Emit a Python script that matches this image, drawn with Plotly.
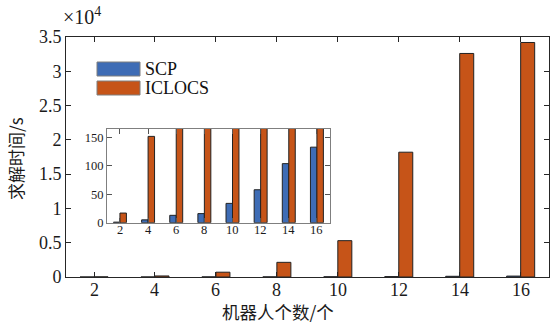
import plotly.graph_objects as go

# Number of robots and solve times (s)
robots = [2, 4, 6, 8, 10, 12, 14, 16]
scp_time = [1, 5, 13, 16, 34, 58, 104, 133]
iclocs_time = [17, 152, 700, 2140, 5300, 18200, 32600, 34200]

series_names = ["SCP", "ICLOCS"]
colors = ["#3E6CB5", "#C65418"]
main_yticks = [0, 0.5e4, 1e4, 1.5e4, 2e4, 2.5e4, 3e4, 3.5e4]
main_yticklabels = ["0", "0.5", "1", "1.5", "2", "2.5", "3", "3.5"]
inset_yticks = [0, 50, 100, 150]

serif = "'Liberation Serif', 'Times New Roman', serif"
cjk = "'Noto Sans CJK SC', sans-serif"

fig = go.Figure()
for name, vals, col in zip(series_names, [scp_time, iclocs_time], colors):
    # main axes
    fig.add_trace(go.Bar(x=robots, y=vals, name=name, marker_color=col,
                         marker_line=dict(color="#222222", width=1),
                         xaxis="x", yaxis="y", showlegend=False))
    # zoomed inset
    fig.add_trace(go.Bar(x=robots, y=vals, name=name, marker_color=col,
                         marker_line=dict(color="#222222", width=1),
                         xaxis="x2", yaxis="y2", showlegend=False))

W, H = 552, 325
ml, mr, mt, mb = 66, 3, 37, 48
pw, ph = W - ml - mr, H - mt - mb


def px_x(x):
    return (x - ml) / pw


def px_y(y):
    return (H - mb - y) / ph


axis_common = dict(showgrid=False, zeroline=False, ticks="inside", ticklen=5,
                   mirror="ticks", showline=True)

fig.update_layout(
    width=W, height=H,
    margin=dict(l=ml, r=mr, t=mt, b=mb),
    paper_bgcolor="white", plot_bgcolor="white",
    barmode="group", bargap=0.54, bargroupgap=0,
    xaxis=dict(domain=[0, 1], range=[1.08, 16.93], tickvals=robots,
               showticklabels=False,
               linecolor="#262626", tickcolor="#262626", linewidth=1,
               **axis_common),
    yaxis=dict(domain=[0, 1], range=[0, 3.5e4], tickvals=main_yticks,
               ticktext=main_yticklabels,
               linecolor="#262626", tickcolor="#262626", linewidth=1,
               tickfont=dict(family=serif, size=18, color="#1a1a1a"),
               **axis_common),
    xaxis2=dict(domain=[px_x(107), px_x(330)], range=[1.08, 16.93],
                tickvals=robots, anchor="y2", showticklabels=False,
                linecolor="#7f7f7f", tickcolor="#555555", linewidth=1,
                **axis_common),
    yaxis2=dict(domain=[px_y(222.7), px_y(129)], range=[0, 165],
                tickvals=inset_yticks, anchor="x2",
                linecolor="#7f7f7f", tickcolor="#555555", linewidth=1,
                tickfont=dict(family=serif, size=12.5, color="#1a1a1a"),
                **axis_common),
)

# x tick labels, set just under each axis
for r in robots:
    fig.add_annotation(xref="x", yref="paper", x=r, y=px_y(290),
                       text=str(r), showarrow=False,
                       xanchor="center", yanchor="middle",
                       font=dict(family=serif, size=18, color="#1a1a1a"))
    fig.add_annotation(xref="x2", yref="paper", x=r, y=px_y(230),
                       text=str(r), showarrow=False,
                       xanchor="center", yanchor="middle",
                       font=dict(family=serif, size=12.5, color="#1a1a1a"))

# inset background panel
fig.add_shape(type="rect", xref="paper", yref="paper",
              x0=px_x(107), x1=px_x(330), y0=px_y(222.7), y1=px_y(129),
              fillcolor="white", line_width=0, layer="below")

# legend swatches and labels
legend_rows = [(62, 76), (81, 95)]
for (y0, y1), name, col in zip(legend_rows, series_names, colors):
    fig.add_shape(type="rect", xref="paper", yref="paper",
                  x0=px_x(97), x1=px_x(140), y0=px_y(y1), y1=px_y(y0),
                  fillcolor=col, line=dict(color="#7f7f7f", width=1))
    fig.add_annotation(xref="paper", yref="paper", x=px_x(143),
                       y=px_y((y0 + y1) / 2), text=name, showarrow=False,
                       xanchor="left", yanchor="middle",
                       font=dict(family=serif, size=18, color="#111111"))

# axis titles and exponent label
fig.add_annotation(xref="paper", yref="paper", x=px_x(278), y=px_y(324.5),
                   text="机器人个数/个", showarrow=False,
                   xanchor="center", yanchor="bottom", borderpad=0,
                   font=dict(family=cjk, size=17.5, color="#1a1a1a"))
fig.add_annotation(xref="paper", yref="paper", x=px_x(15), y=px_y(159),
                   text="求解时间/s", showarrow=False, textangle=-90,
                   xanchor="center", yanchor="middle",
                   font=dict(family=cjk, size=17, color="#1a1a1a"))
fig.add_annotation(xref="paper", yref="paper", x=px_x(61), y=px_y(30),
                   text="×10<sup>4</sup>", showarrow=False,
                   xanchor="left", yanchor="bottom",
                   font=dict(family=serif, size=20, color="#1a1a1a"))

fig.write_html("out.html")
